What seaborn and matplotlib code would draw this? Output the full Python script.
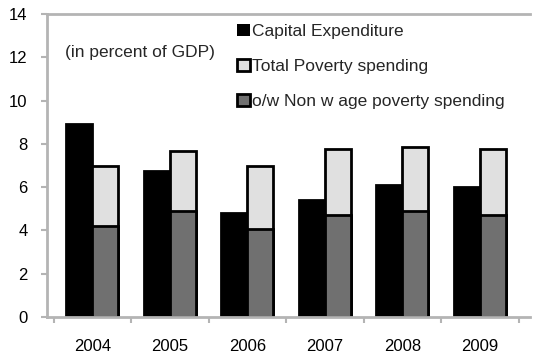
import matplotlib
matplotlib.use("Agg")
import matplotlib.pyplot as plt
import seaborn as sns
import pandas as pd
from matplotlib.patches import Patch
from matplotlib.ticker import FixedLocator

years = ["2004", "2005", "2006", "2007", "2008", "2009"]
capital = [8.9, 6.75, 4.8, 5.4, 6.1, 6.0]
total_poverty = [7.0, 7.65, 7.0, 7.75, 7.85, 7.75]
nonwage = [4.2, 4.9, 4.05, 4.7, 4.9, 4.7]

lab_cap = "Capital Expenditure"
lab_tot = "Total Poverty spending"
lab_nw = "o/w Non w age poverty spending"

sns.set_style("white")
plt.rcParams["font.family"] = ["Liberation Sans", "DejaVu Sans"]

df1 = pd.DataFrame({
    "year": years * 2,
    "value": capital + total_poverty,
    "series": [lab_cap] * len(years) + [lab_tot] * len(years),
})
df2 = pd.DataFrame({
    "year": years,
    "value": nonwage,
    "series": [lab_nw] * len(years),
})

W, H = 539, 358
fig = plt.figure(figsize=(W / 100, H / 100), dpi=100)
ax_l, ax_r, ax_t, ax_b = 47, 530, 14, 317
ax = fig.add_axes([ax_l / W, 1 - ax_b / H, (ax_r - ax_l) / W, (ax_b - ax_t) / H])

sns.barplot(data=df1, x="year", y="value", hue="series", order=years,
            hue_order=[lab_cap, lab_tot], dodge=True,
            palette={lab_cap: "#000000", lab_tot: "#E0E0E0"},
            width=0.67, edgecolor="black", linewidth=2, errorbar=None,
            legend=False, ax=ax)
sns.barplot(data=df2, x="year", y="value", hue="series", order=years,
            hue_order=[lab_cap, lab_nw], dodge=True,
            palette={lab_cap: "#000000", lab_nw: "#707070"},
            width=0.67, edgecolor="black", linewidth=2, errorbar=None,
            legend=False, ax=ax)

ax.set_ylim(0, 14)
ax.set_yticks(range(0, 15, 2))
sp = 77.5
ax.set_xlim(-0.5 - 6.5 / sp, 2.5 + (ax_r - 286) / sp)
ax.set_xlabel("")
ax.set_ylabel("")

gray = "#B4B4B4"
for s in ["left", "bottom", "top"]:
    ax.spines[s].set_visible(True)
    ax.spines[s].set_color(gray)
    ax.spines[s].set_linewidth(2)
ax.spines["right"].set_visible(False)

ax.tick_params(axis="y", which="major", left=True, length=4, width=1.5,
               color=gray, pad=10, labelsize=12, labelcolor="#000000")
ax.tick_params(axis="x", which="major", bottom=False, length=0, pad=16,
               labelsize=12, labelcolor="#000000")
ax.xaxis.set_minor_locator(FixedLocator([i - 0.5 for i in range(len(years) + 1)]))
ax.tick_params(axis="x", which="minor", bottom=True, length=4, width=1.5,
               color=gray, direction="out")

ax.text((65 - ax_l) / (ax_r - ax_l), (ax_b - 52) / (ax_b - ax_t),
        "(in percent of GDP)", transform=ax.transAxes, fontsize=12.5,
        va="center", ha="left")

handles = [
    Patch(facecolor="#000000", edgecolor="none"),
    Patch(facecolor="#E0E0E0", edgecolor="black", linewidth=2),
    Patch(facecolor="#707070", edgecolor="black", linewidth=2),
]
ax.legend(handles, [lab_cap, lab_tot, lab_nw], loc="upper left",
          bbox_to_anchor=((237 - ax_l) / (ax_r - ax_l), (ax_b - 24) / (ax_b - ax_t)),
          frameon=False, fontsize=12.5, borderpad=0, borderaxespad=0,
          handlelength=0.72, handleheight=0.7, handletextpad=0.15,
          labelspacing=1.15)

fig.savefig("out.png", dpi=100)
